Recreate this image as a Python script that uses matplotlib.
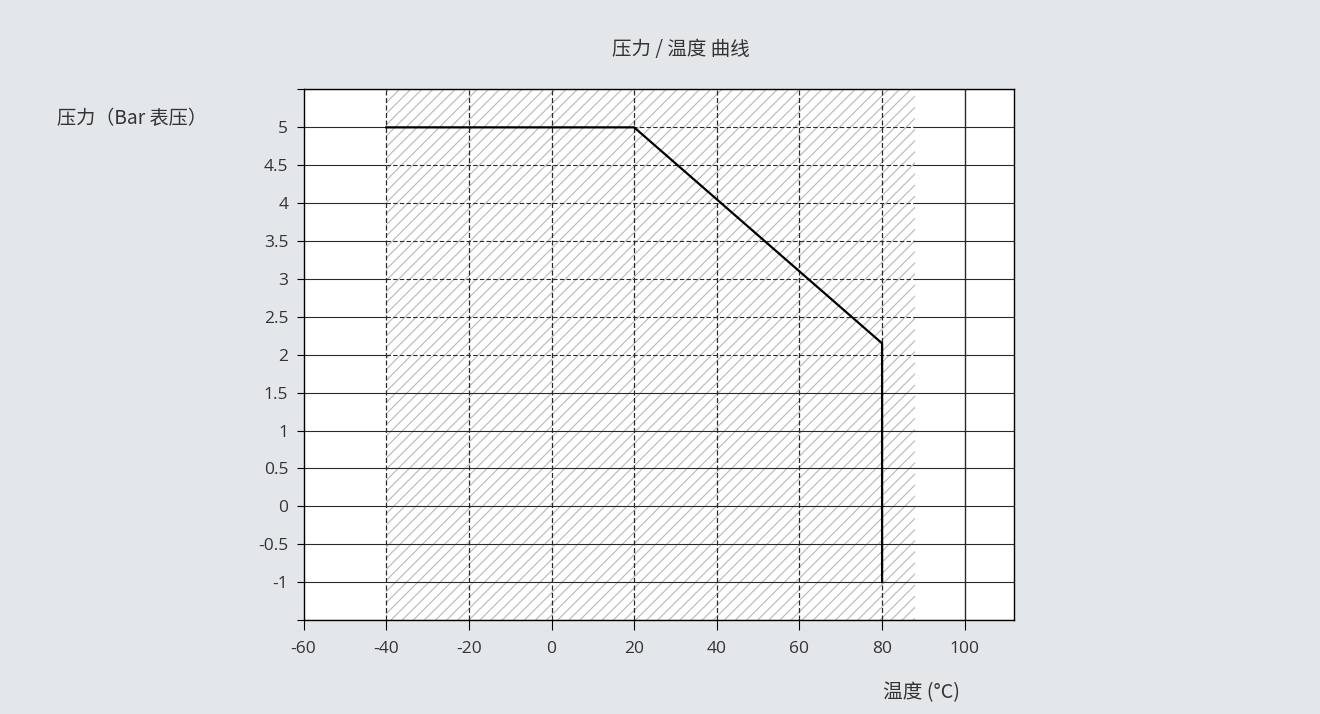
import matplotlib
matplotlib.use('Agg')
import matplotlib.pyplot as plt

# pressure / temperature curve
temp_c = [-40, 20, 80, 80]
pressure_bar = [5, 5, 2.15, -1]

x_ticks = [-60, -40, -20, 0, 20, 40, 60, 80, 100]
y_ticks = [-1.5, -1, -0.5, 0, 0.5, 1, 1.5, 2, 2.5, 3, 3.5, 4, 4.5, 5, 5.5]
y_tick_labels = ['', '-1', '-0.5', '0', '0.5', '1', '1.5', '2', '2.5',
                 '3', '3.5', '4', '4.5', '5', '']

hatch_span = (-40, 88)      # shaded working range
dashed_from = 2             # horizontal lines dashed inside the shade from here up
dashed_verticals = [-40, -20, 0, 20, 40, 60, 80]
solid_verticals = [100]

BG = '#e4e7ea'
GRID = '#2a2a2a'
TEXT = '#333333'
CJK = ['Noto Sans CJK SC', 'DejaVu Sans']

plt.rcParams['hatch.linewidth'] = 0.8

fig = plt.figure(figsize=(13.2, 7.14), dpi=100)
fig.patch.set_facecolor(BG)
ax = fig.add_axes([0.2300, 0.1317, 0.5384, 0.7430])
ax.set_facecolor('white')

ax.set_xlim(-60, 112)
ax.set_ylim(-1.5, 5.5)

# solid grid underneath
for y in y_ticks:
    ax.axhline(y, color=GRID, lw=0.8, zorder=1)
for x in solid_verticals:
    ax.axvline(x, color=GRID, lw=1.0, zorder=1)

# hatched zone covers the grid
ax.axvspan(*hatch_span, facecolor='white', edgecolor='#b8b8b8',
           hatch='///', lw=0, zorder=2)

# grid lines redrawn over the hatched zone
for y in y_ticks:
    ls = (0, (4, 2)) if y >= dashed_from else '-'
    ax.hlines(y, hatch_span[0], hatch_span[1], color=GRID, lw=0.8,
              linestyles=[ls], zorder=3)
for x in dashed_verticals:
    ax.axvline(x, color=GRID, lw=0.9, ls=(0, (4, 2)), zorder=3)

ax.plot(temp_c, pressure_bar, color='black', lw=1.6, zorder=4,
        solid_joinstyle='miter')

for sp in ax.spines.values():
    sp.set_color('black')
    sp.set_linewidth(1.0)
    sp.set_zorder(5)

ax.set_xticks(x_ticks)
ax.set_xticklabels([str(v) for v in x_ticks])
ax.set_yticks(y_ticks)
ax.set_yticklabels(y_tick_labels)
ax.tick_params(axis='x', length=7, width=0.8, pad=8, colors='black',
               labelcolor=TEXT, labelsize=12.5)
ax.tick_params(axis='y', length=5, width=0.8, pad=6, colors='black',
               labelcolor=TEXT, labelsize=12.5)
for lab in ax.get_xticklabels() + ax.get_yticklabels():
    lab.set_family(['Open Sans', 'DejaVu Sans'])

fig.text(681 / 1320, 1 - 50 / 714, '压力 / 温度 曲线', ha='center', va='center',
         fontsize=14, color=TEXT, family=CJK)
fig.text(57 / 1320, 1 - 119 / 714, '压力（Bar 表压）', ha='left', va='center',
         fontsize=13.8, color=TEXT, family=CJK)
fig.text(960 / 1320, 1 - 693 / 714, '温度 (°C)', ha='right', va='center',
         fontsize=14.2, color=TEXT, family=CJK)

fig.savefig('out.png', dpi=100, facecolor=BG)
